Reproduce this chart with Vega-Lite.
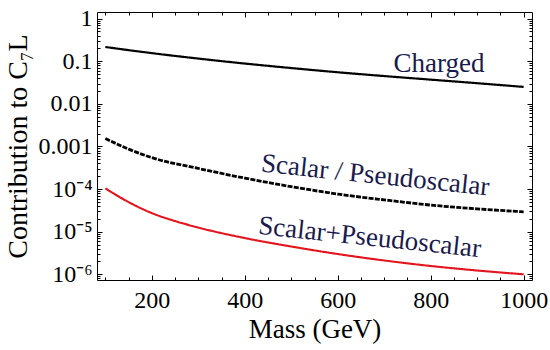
{
  "$schema": "https://vega.github.io/schema/vega-lite/v6.json",
  "width": 435,
  "height": 268,
  "autosize": {"type": "none"},
  "padding": {"left": 97, "top": 12, "right": 18, "bottom": 70},
  "background": "white",
  "config": {
    "font": "Liberation Serif, serif",
    "view": {"stroke": "#000000", "strokeWidth": 1},
    "axis": {"domain": false, "grid": false, "tickColor": "#000000", "tickWidth": 1, "labelColor": "#000000", "titleColor": "#000000", "labelFont": "Liberation Serif, serif", "titleFont": "Liberation Serif, serif", "titleFontWeight": "normal", "labelFlush": false, "labelOverlap": false, "labelBound": false}
  },
  "datasets": {
    "curves": [
      {"series": "Charged", "mass": 100, "value": 0.216},
      {"series": "Charged", "mass": 150, "value": 0.182},
      {"series": "Charged", "mass": 200, "value": 0.155},
      {"series": "Charged", "mass": 300, "value": 0.1155},
      {"series": "Charged", "mass": 400, "value": 0.0882},
      {"series": "Charged", "mass": 500, "value": 0.0692},
      {"series": "Charged", "mass": 600, "value": 0.0551},
      {"series": "Charged", "mass": 700, "value": 0.0449},
      {"series": "Charged", "mass": 800, "value": 0.037},
      {"series": "Charged", "mass": 900, "value": 0.0305},
      {"series": "Charged", "mass": 1000, "value": 0.025},
      {"series": "Scalar / Pseudoscalar", "mass": 100, "value": 0.00154},
      {"series": "Scalar / Pseudoscalar", "mass": 150, "value": 0.000865},
      {"series": "Scalar / Pseudoscalar", "mass": 200, "value": 0.000546},
      {"series": "Scalar / Pseudoscalar", "mass": 300, "value": 0.000305},
      {"series": "Scalar / Pseudoscalar", "mass": 400, "value": 0.000181},
      {"series": "Scalar / Pseudoscalar", "mass": 500, "value": 0.000114},
      {"series": "Scalar / Pseudoscalar", "mass": 600, "value": 0.0000763},
      {"series": "Scalar / Pseudoscalar", "mass": 700, "value": 0.0000558},
      {"series": "Scalar / Pseudoscalar", "mass": 800, "value": 0.0000421},
      {"series": "Scalar / Pseudoscalar", "mass": 900, "value": 0.0000343},
      {"series": "Scalar / Pseudoscalar", "mass": 1000, "value": 0.0000293},
      {"series": "Scalar+Pseudoscalar", "mass": 100, "value": 0.0001037},
      {"series": "Scalar+Pseudoscalar", "mass": 150, "value": 0.0000495},
      {"series": "Scalar+Pseudoscalar", "mass": 200, "value": 0.0000273},
      {"series": "Scalar+Pseudoscalar", "mass": 250, "value": 0.00001775},
      {"series": "Scalar+Pseudoscalar", "mass": 300, "value": 0.0000125},
      {"series": "Scalar+Pseudoscalar", "mass": 400, "value": 0.00000709},
      {"series": "Scalar+Pseudoscalar", "mass": 500, "value": 0.00000449},
      {"series": "Scalar+Pseudoscalar", "mass": 600, "value": 0.00000299},
      {"series": "Scalar+Pseudoscalar", "mass": 700, "value": 0.00000211},
      {"series": "Scalar+Pseudoscalar", "mass": 800, "value": 0.000001567},
      {"series": "Scalar+Pseudoscalar", "mass": 900, "value": 0.000001228},
      {"series": "Scalar+Pseudoscalar", "mass": 1000, "value": 0.000001}
    ],
    "labels": [
      {"label": "Charged", "mass": 818, "value": 0.056},
      {"label": "Scalar / Pseudoscalar", "mass": 679, "value": 0.000135},
      {"label": "Scalar+Pseudoscalar", "mass": 667, "value": 0.00000474}
    ]
  },
  "resolve": {"scale": {"x": "shared", "y": "shared"}, "axis": {"x": "independent", "y": "independent"}},
  "layer": [
    {
      "data": {"name": "curves"},
      "mark": {"type": "line", "interpolate": "monotone"},
      "encoding": {
        "x": {"field": "mass", "type": "quantitative",
          "scale": {"type": "linear", "domain": [82, 1018], "nice": false, "zero": false},
          "axis": {"orient": "bottom", "values": [200, 400, 600, 800, 1000], "format": "d", "tickSize": -5, "labelPadding": 13, "labelFontSize": 24, "title": "Mass (GeV)", "titleFontSize": 27, "titlePadding": 4}},
        "y": {"field": "value", "type": "quantitative",
          "scale": {"type": "log", "domain": [0.000000735, 1.43], "nice": false},
          "axis": {"orient": "left", "values": [0.000001, 0.00001, 0.0001, 0.001, 0.01, 0.1, 1], "tickSize": -5, "labelPadding": 10, "labelFontSize": 24,
            "labelExpr": "datum.value >= 0.0005 ? ('' + datum.value) : datum.value > 0.00005 ? '10⁻⁴' : datum.value > 0.000005 ? '10⁻⁵' : '10⁻⁶'",
            "title": "Contribution to C₇L", "titleFontSize": 28, "titlePadding": 6}},
        "color": {"field": "series", "type": "nominal", "legend": null,
          "scale": {"domain": ["Charged", "Scalar / Pseudoscalar", "Scalar+Pseudoscalar"], "range": ["#000000", "#000000", "#e3141b"]}},
        "strokeDash": {"field": "series", "type": "nominal", "legend": null,
          "scale": {"domain": ["Charged", "Scalar / Pseudoscalar", "Scalar+Pseudoscalar"], "range": [[1, 0], [5, 1.3], [1, 0]]}},
        "strokeWidth": {"field": "series", "type": "nominal", "legend": null,
          "scale": {"type": "ordinal", "domain": ["Charged", "Scalar / Pseudoscalar", "Scalar+Pseudoscalar"], "range": [2.2, 2.8, 2.1]}}
      }
    },
    {
      "data": {"name": "curves"},
      "mark": {"type": "point", "opacity": 0},
      "encoding": {
        "x": {"field": "mass", "type": "quantitative",
          "scale": {"type": "linear", "domain": [82, 1018], "nice": false, "zero": false},
          "axis": {"orient": "bottom", "values": [100, 150, 250, 300, 350, 450, 500, 550, 650, 700, 750, 850, 900, 950], "tickSize": -3, "labels": false, "title": null}},
        "y": {"field": "value", "type": "quantitative",
          "scale": {"type": "log", "domain": [0.000000735, 1.43], "nice": false},
          "axis": {"orient": "left", "values": [0.0000008, 0.0000009, 0.000002, 0.000003, 0.000004, 0.000005, 0.000006, 0.000007, 0.000008, 0.000009, 0.00002, 0.00003, 0.00004, 0.00005, 0.00006, 0.00007, 0.00008, 0.00009, 0.0002, 0.0003, 0.0004, 0.0005, 0.0006, 0.0007, 0.0008, 0.0009, 0.002, 0.003, 0.004, 0.005, 0.006, 0.007, 0.008, 0.009, 0.02, 0.03, 0.04, 0.05, 0.06, 0.07, 0.08, 0.09, 0.2, 0.3, 0.4, 0.5, 0.6, 0.7, 0.8, 0.9], "tickSize": -3, "labels": false, "title": null}}
      }
    },
    {
      "data": {"name": "curves"},
      "mark": {"type": "point", "opacity": 0},
      "encoding": {
        "x": {"field": "mass", "type": "quantitative",
          "scale": {"type": "linear", "domain": [82, 1018], "nice": false, "zero": false},
          "axis": {"orient": "top", "values": [200, 400, 600, 800, 1000], "tickSize": -5, "labels": false, "title": null}},
        "y": {"field": "value", "type": "quantitative",
          "scale": {"type": "log", "domain": [0.000000735, 1.43], "nice": false},
          "axis": {"orient": "right", "values": [0.000001, 0.00001, 0.0001, 0.001, 0.01, 0.1, 1], "tickSize": -5, "labels": false, "title": null}}
      }
    },
    {
      "data": {"name": "curves"},
      "mark": {"type": "point", "opacity": 0},
      "encoding": {
        "x": {"field": "mass", "type": "quantitative",
          "scale": {"type": "linear", "domain": [82, 1018], "nice": false, "zero": false},
          "axis": {"orient": "top", "values": [100, 150, 250, 300, 350, 450, 500, 550, 650, 700, 750, 850, 900, 950], "tickSize": -3, "labels": false, "title": null}},
        "y": {"field": "value", "type": "quantitative",
          "scale": {"type": "log", "domain": [0.000000735, 1.43], "nice": false},
          "axis": {"orient": "right", "values": [0.0000008, 0.0000009, 0.000002, 0.000003, 0.000004, 0.000005, 0.000006, 0.000007, 0.000008, 0.000009, 0.00002, 0.00003, 0.00004, 0.00005, 0.00006, 0.00007, 0.00008, 0.00009, 0.0002, 0.0003, 0.0004, 0.0005, 0.0006, 0.0007, 0.0008, 0.0009, 0.002, 0.003, 0.004, 0.005, 0.006, 0.007, 0.008, 0.009, 0.02, 0.03, 0.04, 0.05, 0.06, 0.07, 0.08, 0.09, 0.2, 0.3, 0.4, 0.5, 0.6, 0.7, 0.8, 0.9], "tickSize": -3, "labels": false, "title": null}}
      }
    },
    {
      "data": {"name": "labels"},
      "transform": [{"filter": "datum.label == 'Charged'"}],
      "mark": {"type": "text", "font": "Liberation Serif, serif", "fontSize": 27, "color": "#1a1a4d", "align": "center", "baseline": "alphabetic", "angle": 0},
      "encoding": {
        "x": {"field": "mass", "type": "quantitative", "scale": {"type": "linear", "domain": [82, 1018], "nice": false, "zero": false}, "axis": null},
        "y": {"field": "value", "type": "quantitative", "scale": {"type": "log", "domain": [0.000000735, 1.43], "nice": false}, "axis": null},
        "text": {"field": "label"}
      }
    },
    {
      "data": {"name": "labels"},
      "transform": [{"filter": "datum.label != 'Charged'"}],
      "mark": {"type": "text", "font": "Liberation Serif, serif", "fontSize": 27, "color": "#1a1a4d", "align": "center", "baseline": "alphabetic", "angle": 6},
      "encoding": {
        "x": {"field": "mass", "type": "quantitative", "scale": {"type": "linear", "domain": [82, 1018], "nice": false, "zero": false}, "axis": null},
        "y": {"field": "value", "type": "quantitative", "scale": {"type": "log", "domain": [0.000000735, 1.43], "nice": false}, "axis": null},
        "text": {"field": "label"}
      }
    }
  ]
}
